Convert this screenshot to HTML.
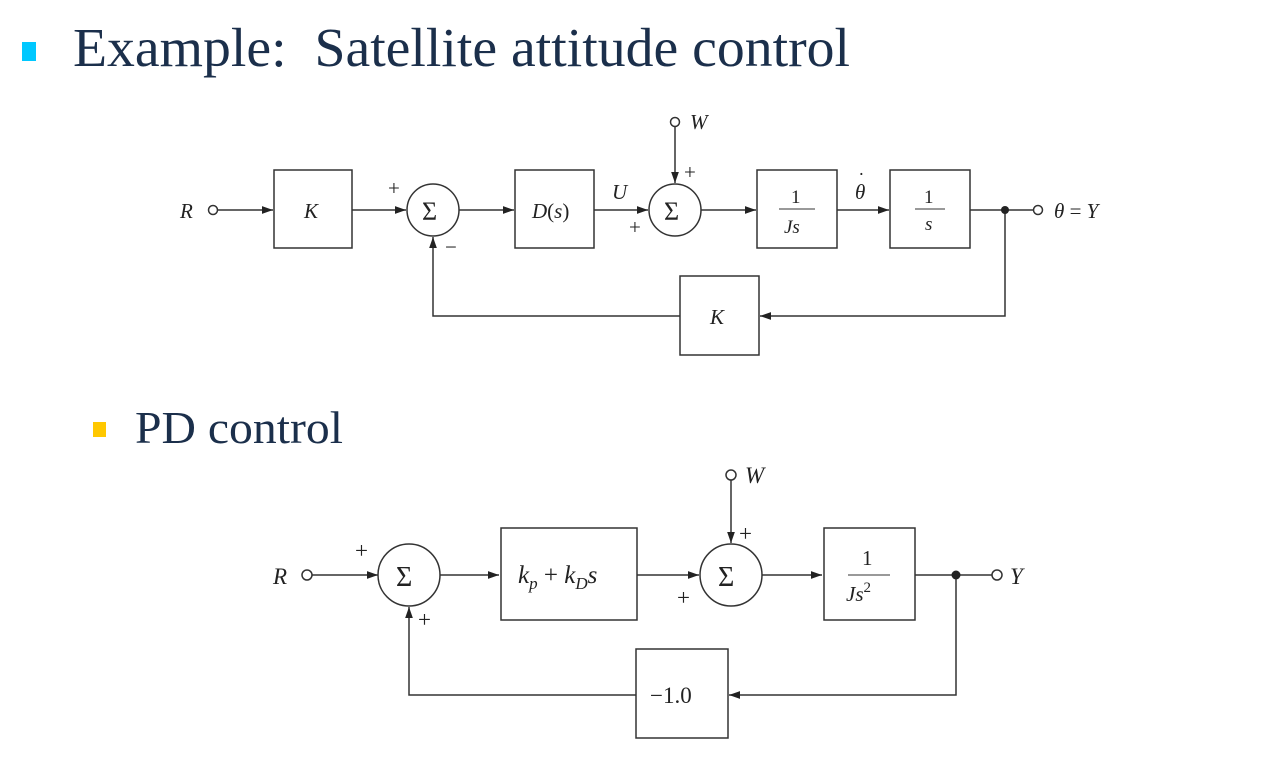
<!DOCTYPE html>
<html><head><meta charset="utf-8"><style>
html,body{margin:0;padding:0;background:#fff;}
body{width:1279px;height:780px;overflow:hidden;position:relative;}
svg{position:absolute;left:0;top:0;}
</style></head><body>
<svg width="1279" height="780" viewBox="0 0 1279 780" xmlns="http://www.w3.org/2000/svg" font-family="Liberation Serif, serif">
<defs>
<marker id="a" viewBox="0 0 10 10" refX="10" refY="5" markerWidth="11" markerHeight="11" markerUnits="userSpaceOnUse" orient="auto"><path d="M0,1.5 L10,5 L0,8.5 z" fill="#222"/></marker>
</defs>
<!-- title -->
<rect x="22" y="42" width="14" height="19" fill="#00c8ff"/>
<text x="73" y="66" font-size="55" fill="#1b2f4b" textLength="777" lengthAdjust="spacingAndGlyphs" xml:space="preserve">Example:  Satellite attitude control</text>
<rect x="93" y="422" width="13" height="15" fill="#ffc800"/>
<text x="135" y="443" font-size="46" fill="#1b2f4b" textLength="208" lengthAdjust="spacingAndGlyphs">PD control</text>

<g stroke="#333" stroke-width="1.5" fill="none">
<!-- diagram 1 -->
<circle cx="213" cy="210" r="4.5"/>
<line x1="218" y1="210" x2="273" y2="210" marker-end="url(#a)"/>
<rect x="274" y="170" width="78" height="78"/>
<line x1="352" y1="210" x2="406" y2="210" marker-end="url(#a)"/>
<circle cx="433" cy="210" r="26"/>
<line x1="459" y1="210" x2="514" y2="210" marker-end="url(#a)"/>
<rect x="515" y="170" width="79" height="78"/>
<line x1="594" y1="210" x2="648" y2="210" marker-end="url(#a)"/>
<circle cx="675" cy="210" r="26"/>
<circle cx="675" cy="122" r="4.5"/>
<line x1="675" y1="127" x2="675" y2="183" marker-end="url(#a)"/>
<line x1="701" y1="210" x2="756" y2="210" marker-end="url(#a)"/>
<rect x="757" y="170" width="80" height="78"/>
<line x1="837" y1="210" x2="889" y2="210" marker-end="url(#a)"/>
<rect x="890" y="170" width="80" height="78"/>
<line x1="970" y1="210" x2="1033" y2="210"/>
<circle cx="1038" cy="210" r="4.5"/>
<polyline points="1005,210 1005,316 760,316" marker-end="url(#a)"/>
<rect x="680" y="276" width="79" height="79"/>
<polyline points="680,316 433,316 433,237" marker-end="url(#a)"/>
<line x1="779" y1="209" x2="815" y2="209" stroke-width="1"/>
<line x1="915" y1="209" x2="945" y2="209" stroke-width="1"/>

<!-- diagram 2 -->
<circle cx="307" cy="575" r="5"/>
<line x1="312" y1="575" x2="378" y2="575" marker-end="url(#a)"/>
<circle cx="409" cy="575" r="31"/>
<line x1="440" y1="575" x2="499" y2="575" marker-end="url(#a)"/>
<rect x="501" y="528" width="136" height="92"/>
<line x1="637" y1="575" x2="699" y2="575" marker-end="url(#a)"/>
<circle cx="731" cy="575" r="31"/>
<circle cx="731" cy="475" r="5"/>
<line x1="731" y1="480" x2="731" y2="543" marker-end="url(#a)"/>
<line x1="762" y1="575" x2="822" y2="575" marker-end="url(#a)"/>
<rect x="824" y="528" width="91" height="92"/>
<line x1="915" y1="575" x2="992" y2="575"/>
<circle cx="997" cy="575" r="5"/>
<polyline points="956,575 956,695 729,695" marker-end="url(#a)"/>
<rect x="636" y="649" width="92" height="89"/>
<polyline points="636,695 409,695 409,607" marker-end="url(#a)"/>
<line x1="848" y1="575" x2="890" y2="575" stroke-width="1"/>
</g>
<circle cx="1005" cy="210" r="4" fill="#222"/>
<circle cx="956" cy="575" r="4.5" fill="#222"/>

<g fill="#222" font-size="21">
<text x="180" y="218" font-style="italic">R</text>
<text x="304" y="218" font-style="italic">K</text>
<text x="388" y="195">+</text>
<text x="422" y="220" font-size="26">Σ</text>
<text x="445" y="254">−</text>
<text x="532" y="218"><tspan font-style="italic">D</tspan>(<tspan font-style="italic">s</tspan>)</text>
<text x="612" y="199" font-style="italic">U</text>
<text x="629" y="234">+</text>
<text x="664" y="220" font-size="26">Σ</text>
<text x="684" y="179">+</text>
<text x="690" y="129" font-style="italic">W</text>
<text x="791" y="203" font-size="19">1</text>
<text x="784" y="233" font-style="italic" font-size="19">Js</text>
<text x="855" y="199" font-style="italic">θ</text>
<text x="858" y="186" font-size="20">˙</text>
<text x="924" y="203" font-size="19">1</text>
<text x="925" y="230" font-style="italic" font-size="19">s</text>
<text x="1054" y="218"><tspan font-style="italic">θ</tspan> = <tspan font-style="italic">Y</tspan></text>
<text x="710" y="324" font-style="italic">K</text>

<text x="273" y="584" font-size="23" font-style="italic">R</text>
<text x="355" y="558" font-size="23">+</text>
<text x="396" y="586" font-size="28">Σ</text>
<text x="418" y="627" font-size="23">+</text>
<text x="518" y="583" font-size="25" font-style="italic">k<tspan font-size="17" dy="6">p</tspan><tspan dy="-6" font-style="normal"> + </tspan>k<tspan font-size="17" dy="6">D</tspan><tspan dy="-6">s</tspan></text>
<text x="718" y="586" font-size="28">Σ</text>
<text x="739" y="541" font-size="23">+</text>
<text x="677" y="605" font-size="23">+</text>
<text x="745" y="483" font-size="23" font-style="italic">W</text>
<text x="862" y="565" font-size="21">1</text>
<text x="846" y="601" font-size="21" font-style="italic">Js<tspan font-style="normal" font-size="15" dy="-9">2</tspan></text>
<text x="1010" y="584" font-size="23" font-style="italic">Y</text>
<text x="650" y="703" font-size="23">−1.0</text>
</g>
</svg>
</body></html>
